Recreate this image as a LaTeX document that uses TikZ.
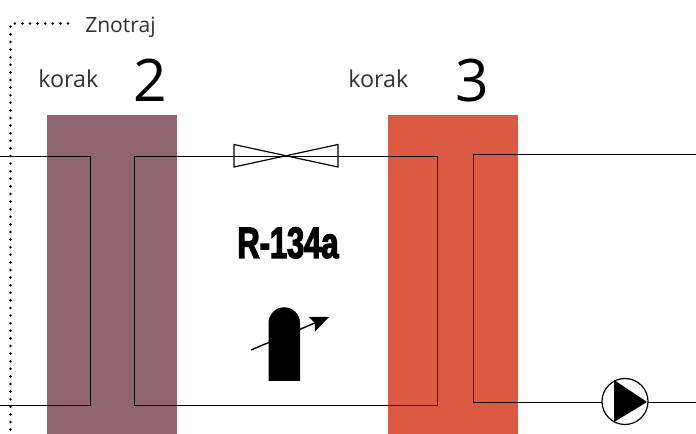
\documentclass[tikz,border=0pt]{standalone}
\usepackage{fontspec}
\setmainfont{Open Sans}
\newfontfamily\heavyfont{Liberation Sans Bold}[FakeStretch=0.70,FakeBold=2.8]
\usetikzlibrary{arrows.meta}
\definecolor{stepa}{RGB}{144,100,112}
\definecolor{stepb}{RGB}{219,90,64}
\tikzset{
  pipe/.style={draw=black,line width=0.75pt},
  caption/.style={anchor=base west,inner sep=0pt,text=black!80,font=\fontsize{17.5}{20}\selectfont},
  bignum/.style={anchor=base,inner sep=0pt,font=\fontsize{44}{48}\selectfont},
}
\begin{document}
\begin{tikzpicture}[x=0.75pt,y=-0.75pt]
\useasboundingbox (0,0) rectangle (696,434);
\fill[stepa] (47,115) rectangle (177,434);
\fill[stepb] (388,115) rectangle (518,434);
\draw[line width=2.1pt,line cap=round,dash pattern=on 0pt off 5.7pt] (68,23.5) -- (10.5,23.5) -- (10.5,434);
\node[caption,font=\fontsize{15.8}{18}\selectfont] (zn) at (85,32.5) {Znotraj};
\node[caption] (k2) at (38,88) {korak};
\node[caption] (k3) at (348,88) {korak};
\node[bignum] (n2) at (150.5,102) {2};
\node[bignum] (n3) at (472,102) {3};
\coordinate (a1) at (0,156.5);
\coordinate (a2) at (90.5,156.5);
\coordinate (a3) at (90.5,405.5);
\coordinate (a4) at (0,405.5);
\draw[pipe] (a1) -- (a2) -- (a3) -- (a4);
\coordinate (b1) at (134.5,156.5);
\coordinate (b2) at (437.5,156.5);
\coordinate (b3) at (437.5,405.5);
\coordinate (b4) at (134.5,405.5);
\draw[pipe] (b1) -- (b2) -- (b3) -- (b4) -- cycle;
\coordinate (c1) at (696,154.5);
\coordinate (c2) at (473.5,154.5);
\coordinate (c3) at (473.5,402.5);
\coordinate (c4) at (696,402.5);
\draw[pipe] (c1) -- (c2) -- (c3) -- (c4);
\draw[line width=0.9pt] (234,144.5) -- (338,167) -- (338,144.5) -- (234,167) -- cycle;
\node[anchor=base,inner sep=0pt] (ref) at (288,258) {\fontsize{33}{35}\selectfont\heavyfont R-134a};
\draw[line width=1.1pt,-{Stealth[length=14pt,width=12pt,inset=2.5pt]}] (251,350) -- (329,317);
\fill (268.5,381) -- (268.5,323) arc[start angle=180,end angle=360,radius=15.75] -- (300,381) -- cycle;
\node[circle,draw=black,fill=white,line width=0.9pt,minimum size=34.5pt,inner sep=0pt] (pump) at (625,401.5) {};
\fill (614,380) -- (647,402) -- (614,422) -- cycle;
\end{tikzpicture}
\end{document}
